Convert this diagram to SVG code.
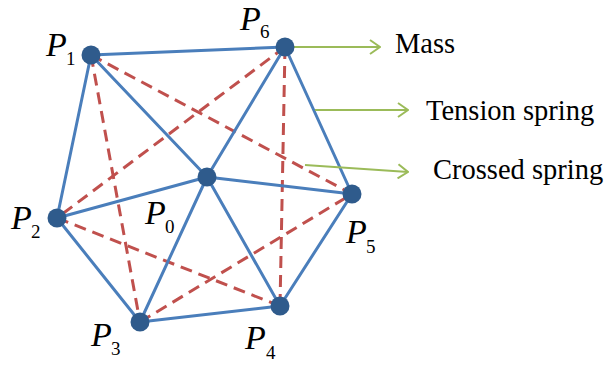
<svg xmlns="http://www.w3.org/2000/svg" width="606" height="367" viewBox="0 0 606 367">
<defs>
<marker id="arr" viewBox="0 0 12 16" refX="11" refY="8" markerWidth="12" markerHeight="16" markerUnits="userSpaceOnUse" orient="auto">
<path d="M1,1 L11,8 L1,15" fill="none" stroke="#9BBB59" stroke-width="2"/>
</marker>
<style>
.s{stroke:#4A7EBB;stroke-width:3;fill:none;stroke-linecap:round}
.c{stroke:#C0504D;stroke-width:3;fill:none;stroke-dasharray:12 7}
.g{stroke:#9BBB59;stroke-width:2;fill:none}
.n{fill:#2F5B8C}
.lbl{font-family:"Liberation Serif",serif;font-style:italic;font-size:34px;fill:#000}
.sub{font-style:normal;font-size:19px}
.t{font-family:"Liberation Serif",serif;font-size:28.5px;fill:#000}
</style>
</defs>
<rect width="606" height="367" fill="#fff"/>
<g id="connectors">
<line class="c" x1="91" y1="55" x2="352" y2="194"/>
<line class="c" x1="91" y1="55" x2="140" y2="322"/>
<line class="c" x1="285" y1="47" x2="57" y2="218"/>
<line class="c" x1="285" y1="47" x2="280" y2="306"/>
<line class="c" x1="57" y1="218" x2="280" y2="306"/>
<line class="c" x1="140" y1="322" x2="352" y2="194"/>
<line class="s" x1="91" y1="55" x2="285" y2="47"/>
<line class="s" x1="91" y1="55" x2="57" y2="218"/>
<line class="s" x1="91" y1="55" x2="207" y2="177"/>
<line class="s" x1="285" y1="47" x2="207" y2="177"/>
<line class="s" x1="285" y1="47" x2="352" y2="194"/>
<line class="s" x1="207" y1="177" x2="57" y2="218"/>
<line class="s" x1="207" y1="177" x2="140" y2="322"/>
<line class="s" x1="207" y1="177" x2="280" y2="306"/>
<line class="s" x1="207" y1="177" x2="352" y2="194"/>
<line class="s" x1="57" y1="218" x2="140" y2="322"/>
<line class="s" x1="140" y1="322" x2="280" y2="306"/>
<line class="s" x1="280" y1="306" x2="352" y2="194"/>
<line class="g" x1="293" y1="47" x2="380" y2="47" marker-end="url(#arr)"/>
<line class="g" x1="315" y1="110" x2="408" y2="110" marker-end="url(#arr)"/>
<line class="g" x1="305" y1="165" x2="408" y2="172" marker-end="url(#arr)"/>
</g>
<g id="P0"><circle class="n" cx="207" cy="177" r="9.5"/><text class="lbl" x="145" y="224">P<tspan class="sub" x="165" y="233">0</tspan></text></g>
<g id="P1"><circle class="n" cx="91" cy="55" r="9.5"/><text class="lbl" x="46" y="56">P<tspan class="sub" x="66" y="65">1</tspan></text></g>
<g id="P2"><circle class="n" cx="57" cy="218" r="9.5"/><text class="lbl" x="11" y="229">P<tspan class="sub" x="31" y="238">2</tspan></text></g>
<g id="P3"><circle class="n" cx="140" cy="322" r="9.5"/><text class="lbl" x="91" y="346">P<tspan class="sub" x="111" y="355">3</tspan></text></g>
<g id="P4"><circle class="n" cx="280" cy="306" r="9.5"/><text class="lbl" x="245" y="349">P<tspan class="sub" x="266" y="359">4</tspan></text></g>
<g id="P5"><circle class="n" cx="352" cy="194" r="9.5"/><text class="lbl" x="346" y="243">P<tspan class="sub" x="366" y="253">5</tspan></text></g>
<g id="P6"><circle class="n" cx="285" cy="47" r="9.5"/><text class="lbl" x="240" y="30">P<tspan class="sub" x="260" y="38">6</tspan></text></g>
<g id="legend">
<text class="t" x="395" y="53">Mass</text>
<text class="t" x="426" y="120">Tension spring</text>
<text class="t" x="433" y="179">Crossed spring</text>
</g>
</svg>
